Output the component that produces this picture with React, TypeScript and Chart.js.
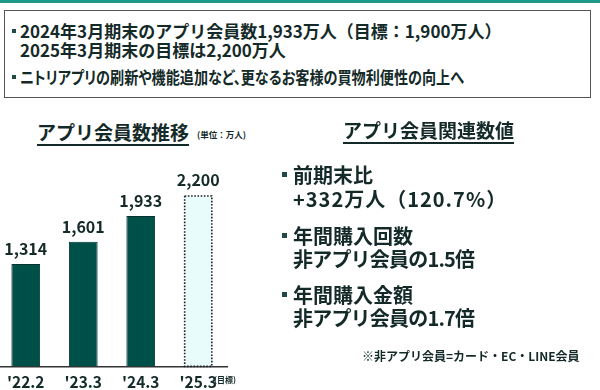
import React, { useEffect, useRef } from "react";
import { Chart, registerables } from "chart.js";

Chart.register(...registerables);

const categories = ["'22.2", "'23.3", "'24.3", "'25.3"];
const members = [1314, 1601, 1933, 2200];
const isTarget = [false, false, false, true];
const valueLabels = ["1,314", "1,601", "1,933", "2,200"];

const headerLines = [
  "2024年3月期末のアプリ会員数1,933万人（目標：1,900万人）",
  "2025年3月期末の目標は2,200万人",
  "ニトリアプリの刷新や機能追加など、更なるお客様の買物利便性の向上へ",
];
const statsBlocks = [
  ["前期末比", "+332万人（120.7%）"],
  ["年間購入回数", "非アプリ会員の1.5倍"],
  ["年間購入金額", "非アプリ会員の1.7倍"],
];

const FONT = '"Noto Sans CJK JP", "Noto Sans", sans-serif';
const TEXT = "#142a28";
const BAR = "#00504a";
const BAR_BORDER = "#00332f";

const valuePlugin = {
  id: "valuesAndTarget",
  afterDatasetsDraw(chart: any) {
    const ctx = chart.ctx;
    const meta = chart.getDatasetMeta(0);
    meta.data.forEach((el: any, i: number) => {
      const left = el.x - el.width / 2;
      if (isTarget[i]) {
        ctx.save();
        ctx.strokeStyle = "#222";
        ctx.lineWidth = 1.6;
        ctx.setLineDash([1.6, 1.6]);
        ctx.strokeRect(left + 0.8, el.y + 0.8, el.width - 1.6, el.base - el.y - 0.8);
        ctx.restore();
      }
      ctx.save();
      ctx.fillStyle = TEXT;
      ctx.font = `bold 16px ${FONT}`;
      ctx.textAlign = "center";
      ctx.textBaseline = "middle";
      ctx.fillText(valueLabels[i], el.x, el.y - 15);
      ctx.restore();
    });
  },
};

function BarChart() {
  const ref = useRef<HTMLCanvasElement | null>(null);
  useEffect(() => {
    if (!ref.current) return;
    const chart = new Chart(ref.current, {
      type: "bar",
      data: {
        labels: categories,
        datasets: [
          {
            data: members,
            backgroundColor: members.map((_, i) => (isTarget[i] ? "#e8fcfc" : BAR)),
            borderColor: members.map((_, i) => (isTarget[i] ? "rgba(0,0,0,0)" : BAR_BORDER)),
            borderWidth: 1,
            barPercentage: 0.5,
            categoryPercentage: 1,
          },
        ],
      },
      options: {
        animation: false,
        responsive: false,
        maintainAspectRatio: false,
        layout: { padding: { left: 0, right: 373, top: 164, bottom: 1 } },
        plugins: { legend: { display: false }, tooltip: { enabled: false } },
        scales: {
          x: {
            grid: { display: false, drawTicks: false },
            border: { display: true, color: "#333", width: 1.5 },
            ticks: {
              color: TEXT,
              padding: 6,
              font: { family: FONT, size: 15.5, weight: "bold" },
            },
          },
          y: { display: false, min: 0, max: 2600 },
        },
      },
      plugins: [valuePlugin],
    });
    return () => chart.destroy();
  }, []);
  return (
    <canvas
      ref={ref}
      width={603}
      height={398}
      style={{ position: "absolute", left: -3, top: 0, width: 603, height: 398 }}
    />
  );
}

const abs = (left: number, top: number, size: number, extra: any = {}) => ({
  position: "absolute" as const,
  left,
  top,
  fontSize: size,
  lineHeight: `${size}px`,
  fontWeight: 700,
  whiteSpace: "nowrap" as const,
  color: TEXT,
  fontFamily: FONT,
  ...extra,
});

const bullet = (left: number, top: number, s: number) => (
  <div style={{ position: "absolute", left, top, width: s, height: s, background: "#1f4a46" }} />
);

export default function App() {
  const statTops = [165, 189, 226, 249, 285, 308];
  const statSpacing = [0, 1, 0, -0.8, 0, -0.8];
  return (
    <div
      style={{
        position: "fixed",
        left: 0,
        top: 0,
        width: 600,
        height: 390,
        background: "#fff",
        overflow: "hidden",
        fontFamily: FONT,
      }}
    >
      <div style={{ position: "absolute", left: 0, top: 0, width: 600, height: 3, background: "#1f9a8a" }} />
      <div
        style={{
          position: "absolute",
          left: 4,
          top: 10,
          width: 587,
          height: 88,
          border: "1px solid #555",
          boxSizing: "border-box",
        }}
      />
      {bullet(12, 29, 4)}
      <div style={abs(20, 22, 17)}>{headerLines[0]}</div>
      <div style={abs(20, 41, 17)}>{headerLines[1]}</div>
      {bullet(12, 75, 4)}
      <div
        style={abs(20, 68, 17, {
          fontFeatureSettings: '"palt"',
          transform: "scaleX(0.83)",
          transformOrigin: "left center",
        })}
      >
        {headerLines[2]}
      </div>

      <div style={abs(37, 122, 19, { textDecoration: "underline", textUnderlineOffset: 4, textDecorationThickness: 1.5 })}>
        アプリ会員数推移
      </div>
      <div style={abs(197, 130, 8.5)}>(単位：万人)</div>

      <BarChart />
      <div style={abs(214, 376, 8)}>(目標)</div>

      <div style={abs(343, 120, 19, { textDecoration: "underline", textUnderlineOffset: 4, textDecorationThickness: 1.5 })}>
        アプリ会員関連数値
      </div>
      {statsBlocks.map((blk, i) => (
        <React.Fragment key={i}>
          {bullet(282, statTops[i * 2] + 7, 5)}
          <div style={abs(293, statTops[i * 2], 20, { letterSpacing: statSpacing[i * 2] })}>{blk[0]}</div>
          <div style={abs(293, statTops[i * 2 + 1], 20, { letterSpacing: statSpacing[i * 2 + 1] })}>{blk[1]}</div>
        </React.Fragment>
      ))}
      <div style={abs(362, 350, 12)}>※非アプリ会員=カード・EC・LINE会員</div>
    </div>
  );
}
